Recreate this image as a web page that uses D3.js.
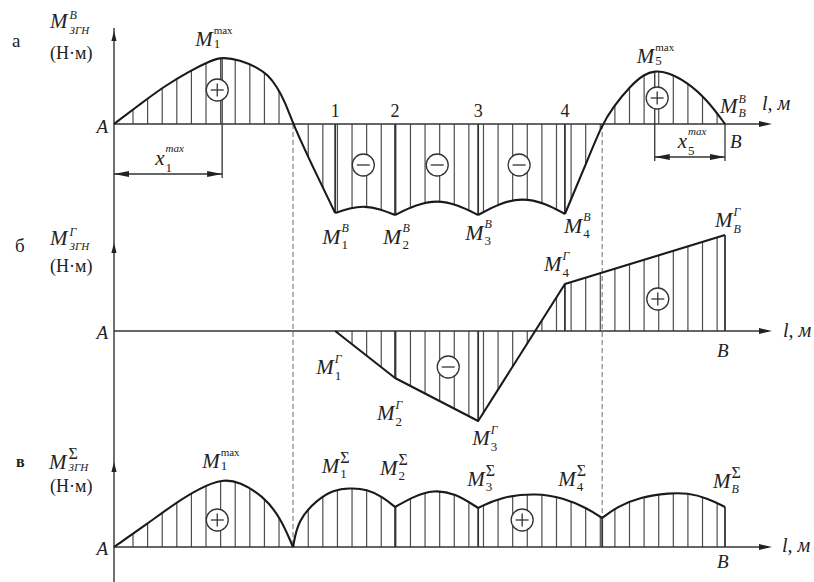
<!DOCTYPE html>
<html>
<head>
<meta charset="utf-8">
<script src="https://cdn.jsdelivr.net/npm/d3@7"></script>
<style>
  body { margin: 0; background: #fff; }
  svg { display: block; }
  text { font-family: "Liberation Serif", "Times New Roman", serif; fill: #222; }
</style>
</head>
<body>
<svg id="chart" width="814" height="582"></svg>
<script>
// Bending moments along the shaft A–B (x in metres, M in relative units)

// section positions along the shaft and their labels
const sectionX = [3.62, 4.60, 5.96, 7.38];
const sectionNames = ["1", "2", "3", "4"];

// zero crossings of the vertical-plane moment
const zeroX = [2.93, 7.99];

// positions of the local maxima
const max1X = 1.77;
const max5X = 8.85;

// а) vertical plane, one array per smooth piece between sections
const vertSeg1 = [[0,0],[0.43,20],[0.83,38],[1.24,53],[1.57,63],[1.77,67],[2.06,64],[2.36,56],[2.52,49],[2.67,37],[2.80,22],[2.93,0],[3.27,-45],[3.62,-89]];
const vertSeg2 = [[3.62,-89],[3.86,-84],[4.11,-82],[4.35,-85],[4.60,-91]];
const vertSeg3 = [[4.60,-91],[4.93,-81],[5.29,-76],[5.63,-81],[5.96,-91]];
const vertSeg4 = [[5.96,-91],[6.32,-79],[6.68,-74],[7.05,-79],[7.38,-90]];
const vertSeg5 = [[7.38,-90],[7.69,-45],[7.99,0],[8.17,17],[8.45,38],[8.68,50],[8.85,53],[9.05,52],[9.38,42],[9.71,24],[10,0]];

// б) horizontal plane, straight segments
const horizPoints = [[3.62,0],[4.60,-47],[5.96,-90],[7.38,47],[10,96]];

// в) total moment
const totSeg1 = [[0,0],[0.54,23],[1.03,45],[1.41,59],[1.77,68],[2.06,65],[2.44,51],[2.72,30],[2.93,0]];
const totSeg2 = [[2.93,0],[3.01,27],[3.32,47],[3.59,57],[3.86,59],[4.14,58],[4.40,50],[4.60,40]];
const totSeg3 = [[4.60,40],[4.92,51],[5.22,57],[5.58,54],[5.96,39]];
const totSeg4 = [[5.96,39],[6.32,50],[6.92,54],[7.35,49],[7.74,39],[7.99,29]];
const totSeg5 = [[7.99,29],[8.23,40],[8.61,50],[9.10,54],[9.38,54],[9.71,49],[10,40]];

const vertSegments = [vertSeg1, vertSeg2, vertSeg3, vertSeg4, vertSeg5];
const totSegments = [totSeg1, totSeg2, totSeg3, totSeg4, totSeg5];

// ---------------------------------------------------------------------------
const svg = d3.select("#chart");
const defs = svg.append("defs");

const AXIS_X = 114;
const x = d3.scaleLinear().domain([0, 10]).range([AXIS_X, 725]);
const panelScale = base => d3.scaleLinear().domain([-100, 100]).range([base + 100, base - 100]);
const yA = panelScale(124);
const yB = panelScale(331);
const yC = panelScale(547);

const INK = "#1a1a1a";
const HATCH = "#4d4d4d";
const hatchXs = d3.range(0.311, 10.01, 0.239);

function valueAt(points, xv) {
  const p = points.find(d => Math.abs(d[0] - xv) < 1e-6);
  return p ? p[1] : 0;
}

// hatching + outline for one diagram
function drawDiagram(id, yS, segments, curve, kinkXs) {
  const area = d3.area().x(d => x(d[0])).y0(yS(0)).y1(d => yS(d[1])).curve(curve);
  const cp = defs.append("clipPath").attr("id", id);
  segments.forEach(s => cp.append("path").attr("d", area(s)));

  svg.append("g").attr("clip-path", `url(#${id})`)
    .selectAll("line").data(hatchXs).join("line")
    .attr("x1", d => x(d)).attr("x2", d => x(d))
    .attr("y1", yS(100)).attr("y2", yS(-100))
    .attr("stroke", HATCH).attr("stroke-width", 1.2);

  const all = segments.flat();
  svg.append("g").selectAll("line").data(kinkXs).join("line")
    .attr("x1", d => x(d)).attr("x2", d => x(d))
    .attr("y1", yS(0)).attr("y2", d => yS(valueAt(all, d)))
    .attr("stroke", "#333").attr("stroke-width", 1.8);

  return () => {
    const line = d3.line().x(d => x(d[0])).y(d => yS(d[1])).curve(curve);
    svg.append("g").selectAll("path").data(segments).join("path")
      .attr("d", line).attr("fill", "none")
      .attr("stroke", INK).attr("stroke-width", 2.1).attr("stroke-linejoin", "round");
  };
}

const outlineA = drawDiagram("clipA", yA, vertSegments, d3.curveBasis, sectionX);
const outlineB = drawDiagram("clipB", yB, [horizPoints], d3.curveLinear, [sectionX[1], sectionX[2], sectionX[3], 10]);
const outlineC = drawDiagram("clipC", yC, totSegments, d3.curveBasis, [sectionX[1], sectionX[2], zeroX[1], 10]);

// dashed projection lines through the zero crossings
const totAll = totSegments.flat();
svg.append("g").selectAll("line").data(zeroX).join("line")
  .attr("x1", d => x(d)).attr("x2", d => x(d))
  .attr("y1", yA(0)).attr("y2", d => yC(valueAt(totAll, d)))
  .attr("stroke", "#777").attr("stroke-width", 1.1).attr("stroke-dasharray", "5,3");

// axes
const axisG = svg.append("g");
axisG.append("line").attr("x1", AXIS_X).attr("x2", AXIS_X).attr("y1", 28).attr("y2", 582)
  .attr("stroke", "#333").attr("stroke-width", 1.4);
const X_TIP = 772;
[[yA, 93], [yB, 88], [yC, 85]].forEach(([yS, up]) => {
  const y0 = yS(0);
  axisG.append("line").attr("x1", AXIS_X).attr("x2", X_TIP - 4).attr("y1", y0).attr("y2", y0)
    .attr("stroke", "#333").attr("stroke-width", 1.4);
  axisG.append("path")
    .attr("d", `M${X_TIP},${y0} L${X_TIP - 13},${y0 - 3} L${X_TIP - 13},${y0 + 3} Z`)
    .attr("fill", "#222");
  const yt = y0 - up;
  axisG.append("path")
    .attr("d", `M${AXIS_X},${yt} L${AXIS_X - 2.6},${yt + 10} L${AXIS_X + 2.6},${yt + 10} Z`)
    .attr("fill", "#222");
});

outlineA(); outlineB(); outlineC();

// dimension lines for the positions of the maxima
function arrowHead(xt, yt, dir) {
  svg.append("path")
    .attr("d", `M${xt},${yt} L${xt - dir * 15},${yt - 3} L${xt - dir * 15},${yt + 3} Z`)
    .attr("fill", "#222");
}
function dimension(x1, x2, yy) {
  svg.append("line").attr("x1", x1).attr("x2", x2).attr("y1", yy).attr("y2", yy)
    .attr("stroke", "#333").attr("stroke-width", 1.3);
  arrowHead(x1, yy, -1);
  arrowHead(x2, yy, 1);
}
const dimLines = svg.append("g").attr("stroke", "#333").attr("stroke-width", 1.3);
dimLines.append("line").attr("x1", x(max1X)).attr("x2", x(max1X))
  .attr("y1", yA(valueAt(vertSeg1, max1X)) + 1).attr("y2", yA(-54));
dimLines.append("line").attr("x1", x(max5X)).attr("x2", x(max5X))
  .attr("y1", yA(valueAt(vertSeg5, max5X)) + 1).attr("y2", yA(-37));
dimLines.append("line").attr("x1", x(10)).attr("x2", x(10))
  .attr("y1", yA(0)).attr("y2", yA(-37));
dimension(x(0), x(max1X), yA(-50));
dimension(x(max5X), x(10), yA(-33));

// sign markers inside the diagrams
const signMarks = [
  [yA, 1.69, 34, "+"], [yA, 4.08, -41, "-"], [yA, 5.29, -41, "-"], [yA, 6.63, -41, "-"], [yA, 8.89, 26, "+"],
  [yB, 5.47, -36, "-"], [yB, 8.90, 32, "+"],
  [yC, 1.69, 27, "+"], [yC, 6.68, 27, "+"]
];
signMarks.forEach(([yS, xv, mv, s]) => {
  const cx = x(xv), cy = yS(mv);
  const g = svg.append("g").attr("stroke", "#333").attr("stroke-width", 1.3);
  g.append("circle").attr("cx", cx).attr("cy", cy).attr("r", 11).attr("fill", "#fff");
  g.append("line").attr("x1", cx - 6.5).attr("x2", cx + 6.5).attr("y1", cy).attr("y2", cy);
  if (s === "+") g.append("line").attr("x1", cx).attr("x2", cx).attr("y1", cy - 6.5).attr("y2", cy + 6.5);
});

// ---------------------------------------------------------------------------
// text with stacked superscript / subscript
function mLabel(x0, y0, o) {
  const g = svg.append("g");
  const main = g.append("text").attr("x", x0).attr("y", y0)
    .style("font-size", (o.size || 22) + "px").style("font-style", "italic").text(o.main || "M");
  const w = main.node().getComputedTextLength();
  const xs = x0 + w + (o.gap != null ? o.gap : 1);
  if (o.sup) g.append("text").attr("x", xs + (o.supDx || 0)).attr("y", y0 + (o.supDy != null ? o.supDy : -12))
    .style("font-size", (o.supSize || 12) + "px")
    .style("font-style", o.supItalic === false ? "normal" : "italic").text(o.sup);
  if (o.sub) g.append("text").attr("x", xs + (o.subDx || 0)).attr("y", y0 + (o.subDy != null ? o.subDy : 5))
    .style("font-size", (o.subSize || 13) + "px")
    .style("font-style", o.subItalic ? "italic" : "normal").text(o.sub);
}
function plain(txt, x0, y0, size, opts = {}) {
  svg.append("text").attr("x", x0).attr("y", y0)
    .style("font-size", size + "px")
    .style("font-style", opts.italic ? "italic" : "normal")
    .style("font-weight", opts.bold ? "bold" : "normal")
    .attr("text-anchor", opts.anchor || "start").text(txt);
}

// panel letters and axis titles
plain("а", 12, 47, 19);
plain("б", 15, 252, 19);
plain("в", 16, 467, 16, { bold: true });

mLabel(50, 28, { size: 21, sup: "В", supSize: 12, supDy: -9, sub: "ЗГН", subSize: 11, subItalic: true, subDy: 6, gap: 2 });
mLabel(50, 245, { size: 21, sup: "Г", supSize: 12, supDy: -9, sub: "ЗГН", subSize: 11, subItalic: true, subDy: 5, gap: 2 });
mLabel(49, 469, { size: 21, sup: "Σ", supSize: 16, supItalic: false, supDy: -10, sub: "ЗГН", subSize: 11, subItalic: true, subDy: 2, gap: 2 });
plain("(Н·м)", 50, 59, 18);
plain("(Н·м)", 50, 272, 18);
plain("(Н·м)", 50, 492, 18);

// origin / end letters and the length axis titles
[[yA, 9], [yB, 8], [yC, 8]].forEach(([yS, d]) => plain("A", 108, yS(0) + d, 19, { italic: true, anchor: "end" }));
plain("B", x(10) + 5, yA(0) + 24, 19, { italic: true });
plain("B", x(10) - 8, yB(0) + 26, 19, { italic: true });
plain("B", x(10) - 8, yC(0) + 21, 19, { italic: true });
plain("l, м", 762, yA(0) - 14, 20, { italic: true });
plain("l, м", 783, yB(0) + 6, 20, { italic: true });
plain("l, м", 782, yC(0) + 5, 20, { italic: true });

// section numbers
sectionNames.forEach((s, i) => plain(s, x(sectionX[i]), yA(0) - 7, 18, { anchor: "middle" }));

// а) labels
const at = (yS, pts, xv) => [x(xv), yS(valueAt(pts, xv))];
const vertAll = vertSegments.flat();
{
  let [px, py] = at(yA, vertAll, max1X);
  mLabel(px - 27, py - 11, { size: 21, sup: "max", supSize: 11, supItalic: false, supDy: -12, sub: "1", subDy: 2 });
  [px, py] = at(yA, vertAll, max5X);
  mLabel(px - 18, py - 8, { size: 21, sup: "max", supSize: 11, supItalic: false, supDy: -12, sub: "5", subDy: 2 });
  [px, py] = at(yA, vertAll, 10);
  mLabel(px - 5, py - 11, { size: 21, sup: "B", supDy: -10, sub: "B", subItalic: true, subSize: 12, subDy: 4 });
  const offs = [[-13, 31], [-12, 29], [-13, 25], [-1, 19]];
  sectionX.forEach((sx, i) => {
    const [qx, qy] = at(yA, vertAll, sx);
    mLabel(qx + offs[i][0], qy + offs[i][1], { size: 22, sup: "B", supDy: -12, sub: String(i + 1), subDy: 5 });
  });
  mLabel(x(max1X) - 67, yA(-41), { main: "x", size: 21, sup: "max", supSize: 11, supDy: -13, sub: "1", subDy: 7 });
  mLabel(x(max5X) + 23, yA(-24), { main: "x", size: 21, sup: "max", supSize: 11, supDy: -13, sub: "5", subDy: 7 });
}

// б) labels
{
  const offs = [[-19, 43], [-18, 42], [-6, 24], [-21, -13], [-10, -8]];
  const names = ["1", "2", "3", "4", "B"];
  horizPoints.forEach((p, i) => {
    const qx = x(p[0]), qy = yB(p[1]);
    mLabel(qx + offs[i][0], qy + offs[i][1], { size: 21, sup: "Г", supDy: -11, sub: names[i],
      subItalic: names[i] === "B", subSize: names[i] === "B" ? 12 : 13, subDy: 6 });
  });
}

// в) labels
{
  let [px, py] = at(yC, totAll, max1X);
  mLabel(px - 20, py - 11, { size: 21, sup: "max", supSize: 11, supItalic: false, supDy: -12, sub: "1", subDy: 2 });
  const pts = [[3.86, -28, -15, "1"], [4.60, -15, -32, "2"], [5.96, -11, -22, "3"], [7.99, -44, -32, "4"], [10, -12, -19, "B"]];
  pts.forEach(([xv, dx, dy, s]) => {
    const [qx, qy] = at(yC, totAll, xv);
    mLabel(qx + dx, qy + dy, { size: 21, sup: "Σ", supSize: 16, supItalic: false, supDy: -10,
      sub: s, subItalic: s === "B", subSize: s === "B" ? 12 : 13, subDy: 5 });
  });
}
</script>
</body>
</html>
